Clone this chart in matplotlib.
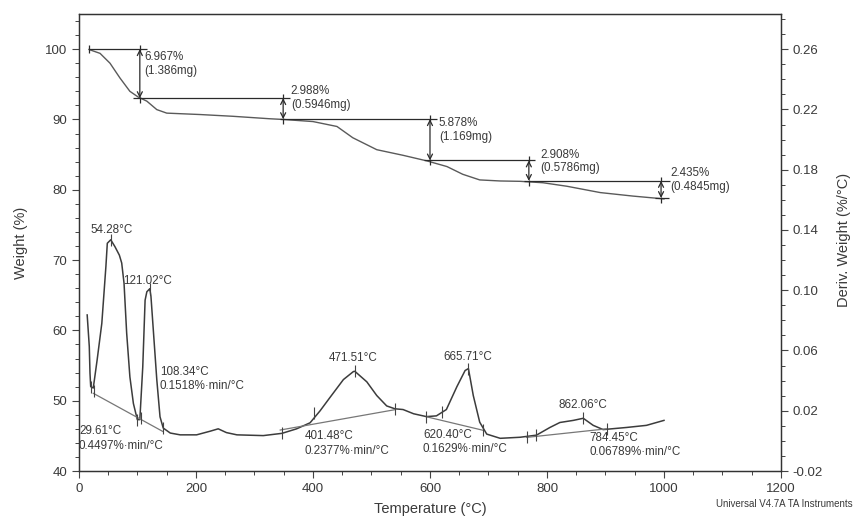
import matplotlib
matplotlib.use("Agg")
import matplotlib.pyplot as plt
from matplotlib.ticker import MultipleLocator, FormatStrFormatter

plt.rcParams['font.family'] = ['Liberation Sans', 'DejaVu Sans']

# ---------------- data ----------------
# TGA weight curve (left axis, %)
tga_temp = [17, 36, 53, 70, 87, 101, 116, 133, 150, 207, 263, 326, 349, 400, 441, 468, 509,
            554, 595, 629, 656, 685, 720, 754, 793, 834, 891, 947, 1000]
tga_weight = [99.95, 99.4, 98.0, 95.9, 94.0, 93.2, 92.6, 91.4, 90.9, 90.7, 90.45, 90.1, 90.0,
              89.7, 89.0, 87.4, 85.7, 84.9, 84.1, 83.3, 82.2, 81.4, 81.25, 81.2, 81.0, 80.5,
              79.6, 79.1, 78.7]

# DTG curve (right axis, %/°C)
dtg_temp = [14, 17.6, 18.8, 20, 24.4, 31, 39, 46, 48.4, 54.3, 61.5, 69, 73, 77, 81.5, 87, 93,
            99.7, 104, 109, 113, 116, 119, 121, 123, 127, 133, 138.5, 144, 156, 173, 201, 224,
            238, 252, 270, 315, 347, 372, 395, 412, 429, 452, 469, 471.5, 492, 509, 526, 540,
            554, 572, 594, 611, 628, 646, 660, 665.7, 674, 685, 697, 720, 754, 782, 805, 822,
            845, 862, 879, 896, 936, 970, 1000]
dtg_value = [0.0836, 0.0626, 0.0449, 0.0360, 0.0351, 0.0537, 0.0780, 0.1158, 0.1312, 0.1335,
             0.1289, 0.1233, 0.1181, 0.1046, 0.0715, 0.0425, 0.0248, 0.0141, 0.0141, 0.0491,
             0.0934, 0.0990, 0.1002, 0.1010, 0.0960, 0.0738, 0.0406, 0.0160, 0.0085, 0.0052,
             0.0040, 0.0040, 0.0064, 0.0080, 0.0055, 0.0040, 0.0035, 0.0050, 0.0080, 0.0120,
             0.0199, 0.0288, 0.0407, 0.0460, 0.0462, 0.0392, 0.0301, 0.0232, 0.0213, 0.0208,
             0.0180, 0.0161, 0.0166, 0.0208, 0.0360, 0.0467, 0.0480, 0.0301, 0.0124, 0.0045,
             0.0017, 0.0024, 0.0038, 0.0089, 0.0122, 0.0136, 0.0150, 0.0103, 0.0075, 0.0089,
             0.0103, 0.0136]

# weight-loss steps
step_temp = [104, 349, 600, 769, 995]
step_top = [100.0, 93.033, 90.045, 84.167, 81.259]
step_bottom = [93.033, 90.045, 84.167, 81.259, 78.824]
step_line_start = [17, 92, 343, 590, 760]
step_line_end = [116, 360, 612, 780, 1010]
step_pct = ["6.967%", "2.988%", "5.878%", "2.908%", "2.435%"]
step_mg = ["(1.386mg)", "(0.5946mg)", "(1.169mg)", "(0.5786mg)", "(0.4845mg)"]
step_label_x = [112, 362, 615, 788, 1011]
step_label_y1 = [98.9, 94.0, 89.5, 85.0, 82.4]
step_label_y2 = [96.9, 92.1, 87.5, 83.1, 80.4]

# DTG integration baselines (start T, start d, end T, end d)
base_t0 = [24.4, 344, 594, 765]
base_d0 = [0.0316, 0.0072, 0.0160, 0.0023]
base_t1 = [144, 540, 691, 902]
base_d1 = [0.0061, 0.0207, 0.0070, 0.0080]

# DTG tick markers on the curve
mark_t = [20, 26, 100, 106, 144, 54.3, 121, 347, 402, 471.5, 540, 594, 621, 665.7, 691, 765,
          782, 862, 902]
mark_d = [0.0360, 0.0330, 0.0141, 0.0150, 0.0085, 0.1335, 0.1010, 0.0050, 0.0185, 0.0462,
          0.0213, 0.0161, 0.0190, 0.0480, 0.0070, 0.0023, 0.0038, 0.0150, 0.0080]

# DTG text labels
dtg_labels = ["54.28°C", "121.02°C", "108.34°C\n0.1518%·min/°C", "29.61°C\n0.4497%·min/°C",
              "471.51°C", "401.48°C\n0.2377%·min/°C", "665.71°C", "620.40°C\n0.1629%·min/°C",
              "862.06°C", "784.45°C\n0.06789%·min/°C"]
dtg_label_x = [19, 76, 138, 0, 427, 386, 623, 588, 819, 873]
dtg_label_y = [0.140, 0.1062, 0.0410, 0.0017, 0.0548, -0.0016, 0.0559, -0.0008, 0.0238, -0.0028]

# ---------------- plot ----------------
line_col = "#5a5a5a"
text_col = "#3a3a3a"

fig = plt.figure(figsize=(8.54, 5.22), dpi=100)
ax = fig.add_axes([0.0925, 0.0977, 0.822, 0.8755])
ax2 = ax.twinx()

ax.plot(tga_temp, tga_weight, color=line_col, lw=1.0)
ax2.plot(dtg_temp, dtg_value, color="#3c3c3c", lw=1.1)

# steps
for i in range(len(step_temp)):
    ax.hlines(step_top[i], step_line_start[i], step_line_end[i], color="#2a2a2a", lw=0.9)
    ax.annotate("", xy=(step_temp[i], step_bottom[i]), xytext=(step_temp[i], step_top[i]),
                arrowprops=dict(arrowstyle="<->", color="#2a2a2a", lw=0.9,
                                shrinkA=0, shrinkB=0, mutation_scale=9))
    ax.vlines(step_temp[i], step_top[i] - 0.2, step_top[i] + 0.6, color="#2a2a2a", lw=0.9)
    ax.vlines(step_temp[i], step_bottom[i] - 0.7, step_bottom[i] + 0.2, color="#2a2a2a", lw=0.9)
    ax.text(step_label_x[i], step_label_y1[i], step_pct[i], fontsize=8.4, color=text_col,
            va="center", ha="left")
    ax.text(step_label_x[i], step_label_y2[i], step_mg[i], fontsize=8.4, color=text_col,
            va="center", ha="left")
ax.hlines(step_bottom[-1], 985, 1008, color="#2a2a2a", lw=0.9)
ax.vlines(step_line_start[0], 99.4, 100.6, color="#2a2a2a", lw=0.9)

# baselines
for i in range(len(base_t0)):
    ax2.plot([base_t0[i], base_t1[i]], [base_d0[i], base_d1[i]], color="#777777", lw=0.9)

# markers
for t, d in zip(mark_t, mark_d):
    ax2.vlines(t, d - 0.004, d + 0.004, color="#444444", lw=0.8)

for lab, x, y in zip(dtg_labels, dtg_label_x, dtg_label_y):
    ax2.text(x, y, lab, fontsize=8.4, color=text_col, va="center", ha="left", linespacing=1.3)

# axes
ax.set_xlim(0, 1200)
ax.set_ylim(40, 105)
ax2.set_ylim(-0.02, 0.2834)

ax.xaxis.set_major_locator(MultipleLocator(200))
ax.xaxis.set_minor_locator(MultipleLocator(50))
ax.yaxis.set_major_locator(MultipleLocator(10))
ax.yaxis.set_minor_locator(MultipleLocator(2))
ax2.set_yticks([-0.02, 0.02, 0.06, 0.10, 0.14, 0.18, 0.22, 0.26])
ax2.yaxis.set_minor_locator(MultipleLocator(0.01))
ax2.yaxis.set_major_formatter(FormatStrFormatter("%.2f"))

for a in (ax, ax2):
    a.tick_params(which="major", direction="out", length=5, width=0.8, colors="#444444",
                  labelsize=9.5, labelcolor=text_col)
    a.tick_params(which="minor", direction="out", length=3, width=0.7, colors="#444444")
    for s in a.spines.values():
        s.set_color("#333333")
        s.set_linewidth(0.9)

ax.set_xlabel("Temperature (°C)", fontsize=10.5, color=text_col, labelpad=5)
ax.set_ylabel("Weight (%)", fontsize=10.5, color=text_col, labelpad=12)
fig.text(0.988, 0.54, "Deriv. Weight (%/°C)", rotation=90, fontsize=10.5, color=text_col,
         ha="center", va="center")
fig.text(0.998, 0.035, "Universal V4.7A TA Instruments", fontsize=7, color=text_col,
         ha="right", va="center")

fig.savefig("out.png", dpi=100)
